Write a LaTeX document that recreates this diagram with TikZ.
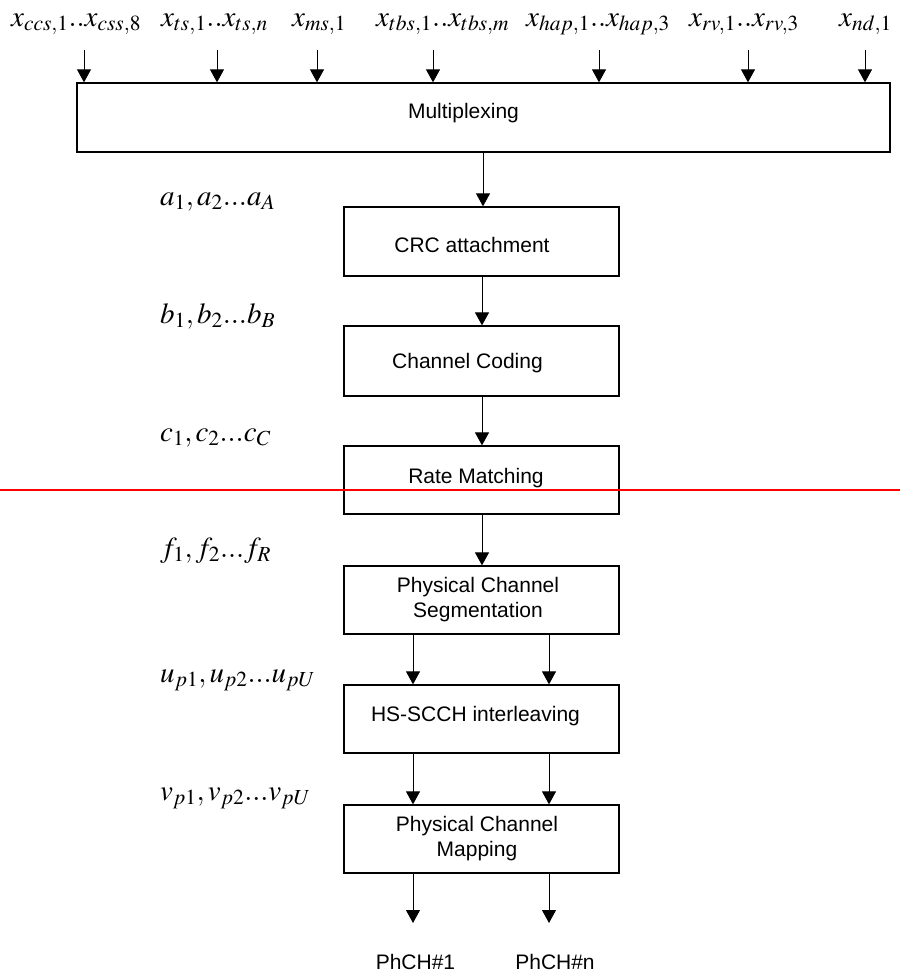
\documentclass[tikz,border=0pt]{standalone}
\usepackage{mathptmx}
\usepackage[no-math]{fontspec}
\setmainfont{Liberation Sans}
\usetikzlibrary{arrows.meta}
\tikzset{
  blk/.style={draw, line width=1.3pt, minimum width=275pt, minimum height=69pt, inner sep=0pt},
  btxt/.style={align=center, inner sep=0pt, font=\fontsize{21}{25}\selectfont},
  arr/.style={line width=1pt, -{Triangle[length=13pt,width=14pt]}},
  mlab/.style={anchor=base west, inner sep=0pt, font=\fontsize{29}{31}\selectfont},
  olab/.style={inner sep=0pt, font=\fontsize{21}{25}\selectfont}
}
\begin{document}
\begin{tikzpicture}[x=1pt,y=-1pt]
\useasboundingbox (0,0) rectangle (900,978);
% top labels
\node[mlab] (l1) at (11,26) {$x_{ccs,1}..x_{css,8}$};
\node[mlab] (l2) at (161,26) {$x_{ts,1}..x_{ts,n}$};
\node[mlab] (l3) at (292,26) {$x_{ms,1}$};
\node[mlab] (l4) at (376,26) {$x_{tbs,1}..x_{tbs,m}$};
\node[mlab] (l5) at (526,26) {$x_{hap,1}..x_{hap,3}$};
\node[mlab] (l6) at (689,26) {$x_{rv,1}..x_{rv,3}$};
\node[mlab] (l7) at (839,26) {$x_{nd,1}$};
% boxes
\node[blk, minimum width=813pt] (mux) at (483.5,117.5) {};
\node[blk] (crc) at (481.5,241.5) {};
\node[blk, minimum height=70pt] (cc) at (481.5,361) {};
\node[blk, minimum height=68pt] (rm) at (481.5,480) {};
\node[blk, minimum height=68pt] (seg) at (481.5,600) {};
\node[blk, minimum height=68pt] (hs) at (481.5,719) {};
\node[blk, minimum height=68pt] (map) at (481.5,839) {};
% box texts
\node[btxt] (muxt) at (463.5,113.5) {Multiplexing};
\node[btxt] (crct) at (472,245) {CRC attachment};
\node[btxt] (cct) at (467.5,363) {Channel Coding};
\node[btxt] (rmt) at (476,478.5) {Rate Matching};
\node[btxt] (segt) at (478,599.5) {Physical Channel\\Segmentation};
\node[btxt] (hst) at (475.5,716) {HS-SCCH interleaving};
\node[btxt] (mapt) at (477,839) {Physical Channel\\Mapping};
% left labels
\node[mlab] (la) at (160,205) {$a_1,a_2...a_A$};
\node[mlab] (lb) at (160,323) {$b_1,b_2...b_B$};
\node[mlab] (lc) at (160,441) {$c_1,c_2...c_C$};
\node[mlab] (lf) at (160,557) {$f_1,f_2...f_R$};
\node[mlab] (lu) at (160,682) {$u_{p1},u_{p2}...u_{pU}$};
\node[mlab] (lv) at (160,800) {$v_{p1},v_{p2}...v_{pU}$};
% outputs
\node[olab] (ph1) at (415.5,962) {PhCH\#1};
\node[olab] (phn) at (555,962) {PhCH\#n};
% top arrows
\foreach \i/\xx in {1/84,2/217,3/317,4/433,5/599,6/748,7/865}{
  \coordinate (t\i) at (\xx,50);
  \draw[arr] (t\i) -- (t\i |- mux.north);
}
% main chain
\coordinate (cm) at (483,0);
\coordinate (cc0) at (482,0);
\draw[arr] (mux.south -| cm) -- (crc.north -| cm);
\draw[arr] (crc.south -| cc0) -- (cc.north -| cc0);
\draw[arr] (cc.south -| cc0) -- (rm.north -| cc0);
\draw[arr] (rm.south -| cc0) -- (seg.north -| cc0);
\coordinate (L) at (413,0);
\coordinate (R) at (549,0);
\draw[arr] (seg.south -| L) -- (hs.north -| L);
\draw[arr] (seg.south -| R) -- (hs.north -| R);
\draw[arr] (hs.south -| L) -- (map.north -| L);
\draw[arr] (hs.south -| R) -- (map.north -| R);
\coordinate (e1) at (413,923);
\coordinate (e2) at (549,923);
\draw[arr] (map.south -| L) -- (e1);
\draw[arr] (map.south -| R) -- (e2);
% red line
\coordinate (rl0) at (0,490);
\coordinate (rl1) at (900,490);
\draw[red, line width=2pt] (rl0) -- (rl1);
\end{tikzpicture}
\end{document}
